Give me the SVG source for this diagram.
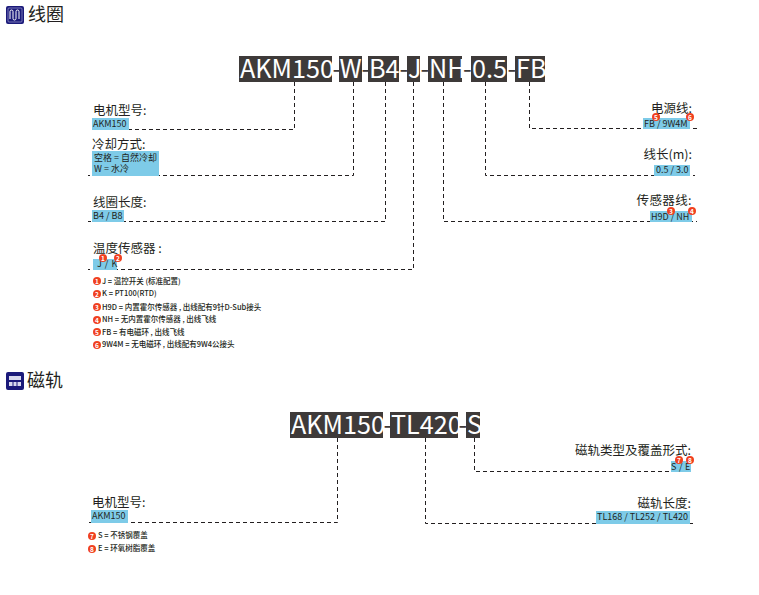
<svg xmlns="http://www.w3.org/2000/svg" width="759" height="595" viewBox="0 0 759 595">
<style>
text{font-family:"Noto Sans CJK SC","Noto Sans",sans-serif;fill:#231f20}
.h{font-size:18px}
.code{font-size:25.200px;fill:#fff}
.hy{fill:#3e3a39}
.cb{fill:#3e3a39}
.lab{font-size:12.500px}
.r{text-anchor:end}
.v{font-size:9px}
.note{font-size:7.500px;font-weight:500}
.tag{fill:#7ecbe8}
.c{fill:none;stroke:#231f20;stroke-width:1;stroke-dasharray:4 3}
.b{fill:#f04020}
.n{font-size:6.500px;fill:#fff;text-anchor:middle;font-weight:700}
.ic{fill:#1b1a7a}
.il{fill:none;stroke:#fff;stroke-width:1}
.ib{fill:#d9d9ee}
</style>
<defs>
<g id="badge"><circle r="4" class="b"/></g>
</defs>
<g id="connectors">
<path class="c" d="M294.500 82V129.500H90"/>
<path class="c" d="M353.500 82V175.500H88"/>
<path class="c" d="M385.500 82V221.500H88"/>
<path class="c" d="M413.500 82V269.500H88"/>
<path class="c" d="M443.500 82V221.500H697"/>
<path class="c" d="M485.500 82V175.500H695"/>
<path class="c" d="M529.500 82V128.500H697"/>
<path class="c" d="M337.500 438V522.500H86"/>
<path class="c" d="M425.500 438V523.500H693"/>
<path class="c" d="M474.500 438V471.500H693"/>
</g>
<g id="coil-title">
<rect x="6" y="6" width="18" height="18" rx="2" class="ic"/>
<rect x="8" y="8" width="14" height="14" rx="1" fill="none" stroke="#8f8fc8" stroke-width="0.800"/>
<path class="il" d="M10 19V11.500a1.500 1.500 0 0 1 3 0V18.500a1.500 1.500 0 0 0 3 0V11.500a1.500 1.500 0 0 1 3 0V19"/>
<text x="28" y="21" class="h">线圈</text>
</g>
<g id="coil-code">
<rect class="cb" x="239" y="56" width="93" height="26"/>
<rect class="cb" x="339" y="56" width="23" height="26"/>
<rect class="cb" x="368" y="56" width="31" height="26"/>
<rect class="cb" x="407" y="56" width="13" height="26"/>
<rect class="cb" x="428" y="56" width="34" height="26"/>
<rect class="cb" x="471" y="56" width="36" height="26"/>
<rect class="cb" x="515" y="56" width="30" height="26"/>
<text class="code" y="78"><tspan x="240">AKM150</tspan><tspan class="hy" x="332.500">-</tspan><tspan x="339.500">W</tspan><tspan class="hy" x="361.500">-</tspan><tspan x="369">B4</tspan><tspan class="hy" x="399.500">-</tspan><tspan x="408">J</tspan><tspan class="hy" x="420.500">-</tspan><tspan x="429">NH</tspan><tspan class="hy" x="463">-</tspan><tspan x="472">0.5</tspan><tspan class="hy" x="507.500">-</tspan><tspan x="516">FB</tspan></text>
</g>
<g id="motor-type">
<text class="lab" x="93" y="115">电机型号:</text>
<rect class="tag" x="92" y="118" width="37" height="12"/>
<text class="v" x="93" y="127">AKM150</text>
</g>
<g id="cooling">
<text class="lab" x="92" y="149">冷却方式:</text>
<rect class="tag" x="92" y="151" width="67" height="25"/>
<text class="v" x="94" y="161">空格 = 自然冷却</text>
<text class="v" x="94" y="172">W = 水冷</text>
</g>
<g id="coil-length">
<text class="lab" x="93" y="207">线圈长度:</text>
<rect class="tag" x="92" y="210" width="32" height="12"/>
<text class="v" x="93" y="219">B4 / B8</text>
</g>
<g id="temp-sensor">
<text class="lab" x="93" y="253">温度传感器 :</text>
<rect class="tag" x="93" y="259" width="24" height="11"/>
<text class="v" x="97" y="267" word-spacing="1">J / K</text>
<use href="#badge" x="103" y="258"/><text class="n" x="103" y="260.500">1</text>
<use href="#badge" x="118" y="258"/><text class="n" x="118" y="260.500">2</text>
</g>
<g id="coil-notes">
<use href="#badge" x="97" y="281"/><text class="n" x="97" y="283.500">1</text>
<text class="note" x="102" y="284">J = 温控开关 (标准配置)</text>
<use href="#badge" x="97" y="294"/><text class="n" x="97" y="296.500">2</text>
<text class="note" x="102" y="296">K = PT100(RTD)</text>
<use href="#badge" x="97" y="307"/><text class="n" x="97" y="309.500">3</text>
<text class="note" x="102" y="310">H9D = 内置霍尔传感器 , 出线配有9针D-Sub接头</text>
<use href="#badge" x="97" y="320"/><text class="n" x="97" y="322.500">4</text>
<text class="note" x="102" y="322">NH = 无内置霍尔传感器 , 出线飞线</text>
<use href="#badge" x="97" y="332"/><text class="n" x="97" y="334.500">5</text>
<text class="note" x="102" y="335">FB = 有电磁环 , 出线飞线</text>
<use href="#badge" x="97" y="345"/><text class="n" x="97" y="347.500">6</text>
<text class="note" x="102" y="347">9W4M = 无电磁环 , 出线配有9W4公接头</text>
</g>
<g id="power-line">
<text class="lab r" x="692" y="113">电源线:</text>
<rect class="tag" x="643" y="118" width="47" height="11"/>
<text class="v" x="644" y="127">FB / 9W4M</text>
<use href="#badge" x="656" y="117"/><text class="n" x="656" y="119.500">5</text>
<use href="#badge" x="690" y="117"/><text class="n" x="690" y="119.500">6</text>
</g>
<g id="line-length">
<text class="lab r" x="692" y="159">线长(m):</text>
<rect class="tag" x="654" y="165" width="36" height="11"/>
<text class="v" x="656" y="173">0.5 / 3.0</text>
</g>
<g id="sensor-line">
<text class="lab r" x="692" y="205" letter-spacing="0.400">传感器线:</text>
<rect class="tag" x="650" y="211" width="42" height="11"/>
<text class="v" x="651" y="219.500">H9D / NH</text>
<use href="#badge" x="671" y="211"/><text class="n" x="671" y="213.500">3</text>
<use href="#badge" x="692" y="211"/><text class="n" x="692" y="213.500">4</text>
</g>
<g id="track-title">
<rect x="6" y="372" width="18" height="18" rx="2" class="ic"/>
<rect class="ib" x="9" y="376" width="12" height="4"/>
<rect class="ib" x="9" y="382" width="12" height="4"/>
<path d="M13 382v4M17 382v4" stroke="#1b1a7a" stroke-width="1"/>
<text x="27" y="387" class="h">磁轨</text>
</g>
<g id="track-code">
<rect class="cb" x="290" y="412" width="93" height="26"/>
<rect class="cb" x="390" y="412" width="68" height="26"/>
<rect class="cb" x="466" y="412" width="14" height="26"/>
<text class="code" y="434"><tspan x="291">AKM150</tspan><tspan class="hy" x="383.500">-</tspan><tspan x="391">TL420</tspan><tspan class="hy" x="458.500">-</tspan><tspan x="467">S</tspan></text>
</g>
<g id="track-motor-type">
<text class="lab" x="92" y="507">电机型号:</text>
<rect class="tag" x="91" y="510" width="37" height="13"/>
<text class="v" x="92" y="519">AKM150</text>
</g>
<g id="track-cover">
<text class="lab r" x="691" y="455">磁轨类型及覆盖形式:</text>
<rect class="tag" x="671" y="461" width="20" height="11"/>
<text class="v" x="671" y="470" word-spacing="0.500">S / E</text>
<use href="#badge" x="679" y="460"/><text class="n" x="679" y="462.500">7</text>
<use href="#badge" x="690" y="460"/><text class="n" x="690" y="462.500">8</text>
</g>
<g id="track-length">
<text class="lab r" x="691" y="508">磁轨长度:</text>
<rect class="tag" x="596" y="511" width="94" height="13"/>
<text class="v" x="597" y="520">TL168 / TL252 / TL420</text>
</g>
<g id="track-notes">
<use href="#badge" x="92" y="536"/><text class="n" x="92" y="538.500">7</text>
<text class="note" x="98" y="538">S = 不锈钢覆盖</text>
<use href="#badge" x="92" y="549"/><text class="n" x="92" y="551.500">8</text>
<text class="note" x="98" y="551">E = 环氧树脂覆盖</text>
</g>
</svg>
